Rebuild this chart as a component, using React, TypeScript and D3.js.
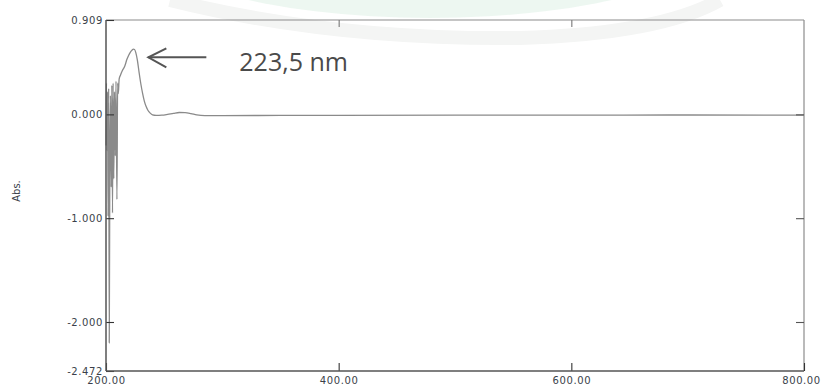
import React, { useRef, useEffect } from "react";
import * as d3 from "d3";

const width = 824;
const height = 390;
const margin = { top: 20, left: 106, bottom: 19, right: 20 };
const iwidth = width - margin.left - margin.right;
const iheight = height - margin.top - margin.bottom;

// wavelength (nm)
const wavelengths = [
  200.0, 200.4, 200.9, 201.3, 201.8, 202.3, 202.8, 203.3, 203.8, 204.5, 205.0,
  205.6, 206.1, 206.7, 207.3, 208.0, 208.6, 209.4, 210.0, 210.6, 211.3, 212.5,
  214.0, 216.0, 218.0, 219.5, 221.0, 222.5, 223.5, 224.5, 225.5, 227.0, 228.5,
  230.0, 231.5, 233.0, 234.5, 236.0, 238.0, 240.0, 243.0, 248.0, 253.0, 258.0,
  263.0, 268.0, 273.0, 278.0, 285.0, 300.0, 350.0, 400.0, 500.0, 600.0, 700.0,
  800.0,
];
// absorbance
const absorbance = [
  -0.3, 0.3, -0.35, 0.22, -0.98, 0.25, -2.2, -0.4, 0.18, -0.7, 0.28, -0.95,
  0.3, -0.62, 0.22, -0.4, 0.32, -0.82, 0.3, 0.2, 0.34, 0.38, 0.42, 0.46, 0.53,
  0.57, 0.6, 0.62, 0.628, 0.625, 0.6, 0.52, 0.4, 0.29, 0.2, 0.125, 0.075,
  0.04, 0.012, -0.005, -0.01, -0.008, 0.0, 0.01, 0.018, 0.017, 0.008, -0.005,
  -0.012, -0.012, -0.01, -0.009, -0.008, -0.007, -0.006, -0.007,
];

const yTicks = [0.909, 0, -1, -2, -2.472];
const xTicks = [200, 400, 600, 800];
const yLabel = "Abs.";
const peakLabel = "223,5 nm";

const App = () => {
  const ref = useRef(null);

  useEffect(() => {
    const svg = d3.select(ref.current);
    svg.selectAll("*").remove();
    draw(svg);
  }, []);

  const draw = (svg) => {
    // faint watermark behind the chart
    const wm = svg.append("g");
    wm.append("ellipse")
      .attr("cx", 430)
      .attr("cy", -70)
      .attr("rx", 300)
      .attr("ry", 88)
      .attr("fill", "#e8f5ed")
      .attr("opacity", 0.8);
    wm.append("path")
      .attr("d", "M170,0 Q330,40 520,38 Q660,34 720,0")
      .attr("fill", "none")
      .attr("stroke", "#f4f5f4")
      .attr("stroke-width", 14);

    const x = d3.scaleLinear().domain([200, 800]).range([0, iwidth]);
    const y = d3.scaleLinear().domain([-2.472, 0.909]).range([iheight, 0]);

    const g = svg
      .append("g")
      .attr("transform", `translate(${margin.left},${margin.top})`);

    const data = wavelengths.map((w, i) => ({ w, a: absorbance[i] }));

    const line = d3
      .line()
      .x((d) => x(d.w))
      .y((d) => y(d.a))
      .curve(d3.curveMonotoneX);

    g.append("path")
      .datum(data)
      .attr("fill", "none")
      .attr("stroke", "#8a8a8a")
      .attr("stroke-width", 1.3)
      .attr("d", line);

    // frame
    g.append("line").attr("x1", 0).attr("x2", iwidth).attr("y1", 0).attr("y2", 0)
      .attr("stroke", "#8c8c8c").attr("stroke-width", 1.2);
    g.append("line").attr("x1", iwidth).attr("x2", iwidth).attr("y1", 0).attr("y2", iheight)
      .attr("stroke", "#8c8c8c").attr("stroke-width", 1.2);

    // plain hyphen for negatives, as in the instrument printout
    const fmtY = (d) => d3.format(".3f")(d).replace("\u2212", "-");
    const fmtX = d3.format(".2f");

    const left = g.append("g")
      .call(d3.axisLeft(y).tickValues(yTicks).tickSize(-8).tickPadding(3).tickFormat(fmtY));
    const right = g.append("g")
      .attr("transform", `translate(${iwidth},0)`)
      .call(d3.axisRight(y).tickValues([0, -1, -2]).tickSize(-8).tickFormat(() => ""));
    const bottom = g.append("g")
      .attr("transform", `translate(0,${iheight})`)
      .call(d3.axisBottom(x).tickValues(xTicks).tickSize(-8).tickPadding(6).tickFormat(fmtX));
    const top = g.append("g")
      .call(d3.axisTop(x).tickValues([400, 600]).tickSize(-7).tickFormat(() => ""));

    [left, right, bottom, top].forEach((a) => {
      a.select(".domain").remove();
      a.selectAll("line").attr("stroke", "#333").attr("stroke-width", 1.1);
      a.selectAll("text")
        .attr("fill", "#3a3f4a")
        .style("font-family", "'DejaVu Sans', sans-serif")
        .style("font-size", "10px")
        .style("letter-spacing", "0.6px");
    });
    right.selectAll("line").attr("stroke", "#555");
    top.selectAll("line").attr("stroke", "#777");
    bottom.selectAll("text").filter((d) => d === 800).attr("dx", "-3");

    g.append("line").attr("x1", 0).attr("x2", 0).attr("y1", 0).attr("y2", iheight)
      .attr("stroke", "#555").attr("stroke-width", 1.5);
    g.append("line").attr("x1", 0).attr("x2", iwidth).attr("y1", iheight).attr("y2", iheight)
      .attr("stroke", "#555").attr("stroke-width", 1.5);

    // axis title
    svg.append("text")
      .attr("transform", `translate(20,191) rotate(-90)`)
      .attr("text-anchor", "middle")
      .attr("fill", "#3a3f4a")
      .style("font-family", "'DejaVu Sans', sans-serif")
      .style("font-size", "10px")
      .text(yLabel);

    // peak annotation
    const ax = x(223.5) + 15;
    const ay = y(0.55);
    const ann = g.append("g").attr("stroke", "#555").attr("stroke-width", 2).attr("fill", "none");
    ann.append("line").attr("x1", ax).attr("x2", ax + 58).attr("y1", ay).attr("y2", ay);
    ann.append("path")
      .attr("d", `M${ax + 18},${ay - 9} L${ax},${ay} L${ax + 18},${ay + 10}`);

    g.append("text")
      .attr("x", ax + 91)
      .attr("y", ay + 14)
      .attr("fill", "#4a4a4a")
      .style("font-family", "'Open Sans', sans-serif")
      .style("font-size", "25px")
      .text(peakLabel);
  };

  return (
    <svg
      ref={ref}
      width={width}
      height={height}
      style={{ position: "absolute", left: 0, top: 0, background: "#fff" }}
    ></svg>
  );
};

export default App;
